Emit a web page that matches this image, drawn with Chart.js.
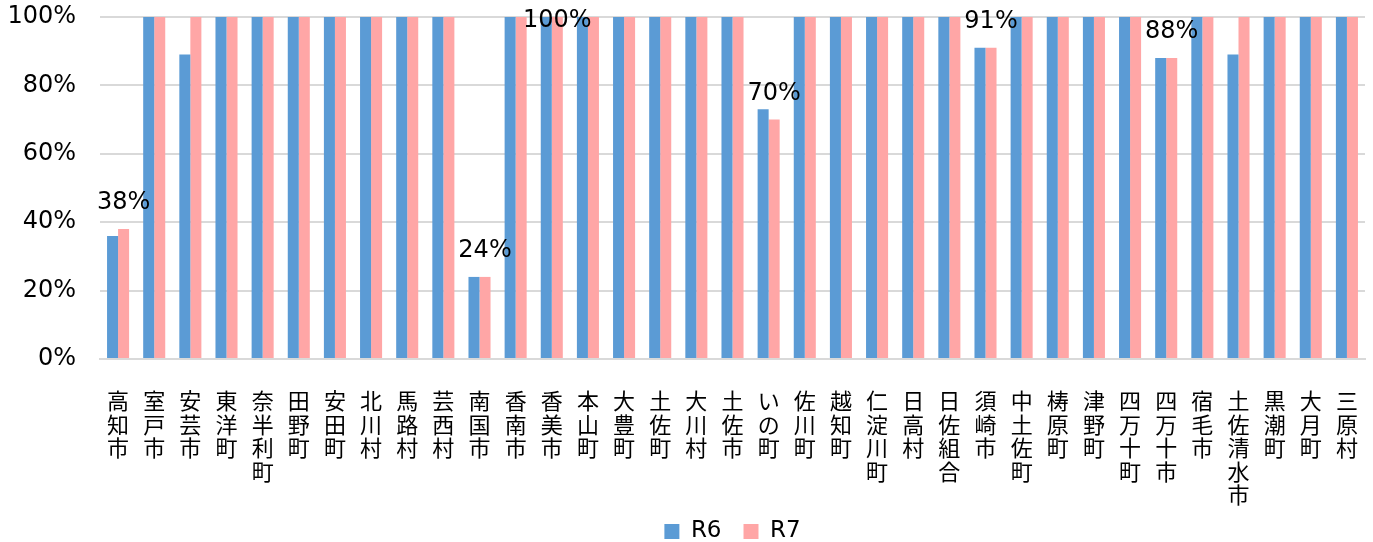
<!DOCTYPE html>
<html lang="ja">
<head>
<meta charset="utf-8">
<title>R6・R7 比較</title>
<script src="https://cdn.jsdelivr.net/npm/chart.js@4.4.1/dist/chart.umd.min.js"></script>
<style>
  html, body { margin: 0; padding: 0; background: #ffffff; }
  #wrap { width: 1373px; height: 542px; position: relative; }
</style>
</head>
<body>
<div id="wrap"><canvas id="chart" width="1373" height="542"></canvas></div>
<script>
// 市町村・組合
const categories = [
  '高知市', '室戸市', '安芸市', '東洋町', '奈半利町', '田野町', '安田町', '北川村', '馬路村', '芸西村',
  '南国市', '香南市', '香美市', '本山町', '大豊町', '土佐町', '大川村', '土佐市', 'いの町', '佐川町',
  '越知町', '仁淀川町', '日高村', '日佐組合', '須崎市', '中土佐町', '梼原町', '津野町', '四万十町', '四万十市',
  '宿毛市', '土佐清水市', '黒潮町', '大月町', '三原村'
];

// 割合（%）
const r6Values = [
  36, 100, 89, 100, 100, 100, 100, 100, 100, 100,
  24, 100, 100, 100, 100, 100, 100, 100, 73, 100,
  100, 100, 100, 100, 91, 100, 100, 100, 100, 88,
  100, 89, 100, 100, 100
];
const r7Values = [
  38, 100, 100, 100, 100, 100, 100, 100, 100, 100,
  24, 100, 100, 100, 100, 100, 100, 100, 70, 100,
  100, 100, 100, 100, 91, 100, 100, 100, 100, 88,
  100, 100, 100, 100, 100
];

// R7 の値を表示する項目
const labeledCategories = ['高知市', '南国市', '香美市', 'いの町', '須崎市', '四万十市'];

const yTicks = [0, 20, 40, 60, 80, 100];

const FONT = "'DejaVu Sans', 'Noto Sans CJK JP', sans-serif";
const CJK_FONT = "'Noto Sans CJK JP', 'DejaVu Sans', sans-serif";

// 縦書き風に1文字ずつ改行したラベル
const verticalLabels = categories.map(name => Array.from(name));

const valueLabels = {
  id: 'valueLabels',
  afterDatasetsDraw(chart) {
    const meta = chart.getDatasetMeta(1);
    const ctx = chart.ctx;
    ctx.save();
    ctx.font = '24px ' + FONT;
    ctx.fillStyle = '#000000';
    ctx.textAlign = 'center';
    ctx.textBaseline = 'middle';
    labeledCategories.forEach(name => {
      const i = categories.indexOf(name);
      const bar = meta.data[i];
      const y = Math.max(bar.y - 26, 21);
      ctx.fillText(Math.round(r7Values[i]) + '%', bar.x, y);
    });
    ctx.restore();
  }
};

new Chart(document.getElementById('chart'), {
  type: 'bar',
  data: {
    labels: verticalLabels,
    datasets: [
      { label: 'R6', data: r6Values, backgroundColor: '#5B9BD5', borderWidth: 0 },
      { label: 'R7', data: r7Values, backgroundColor: '#FFA6A6', borderWidth: 0 }
    ]
  },
  options: {
    responsive: false,
    animation: false,
    devicePixelRatio: 1,
    layout: { padding: { top: 17, left: 0, right: 8, bottom: -11 } },
    datasets: { bar: { categoryPercentage: 0.61, barPercentage: 1.0 } },
    scales: {
      x: {
        grid: { display: false, drawTicks: true, tickLength: 30, tickColor: 'rgba(0,0,0,0)' },
        border: { display: true, color: '#d9d9d9', width: 2 },
        ticks: {
          autoSkip: false,
          maxRotation: 0,
          minRotation: 0,
          padding: 0,
          color: '#000000',
          font: { family: CJK_FONT, size: 22, lineHeight: 1.07 }
        },
        afterFit(scale) {
          scale.height = 139;
          // 5文字の名前が軸の領域より下に伸びるので、ラベルを切り取らない
          scale._computeLabelArea = () => undefined;
        }
      },
      y: {
        min: 0,
        max: 100,
        afterBuildTicks(scale) { scale.ticks = yTicks.map(v => ({ value: v })); },
        grid: { color: '#d9d9d9', lineWidth: 2, drawTicks: true, tickLength: 24, tickColor: 'rgba(0,0,0,0)' },
        border: { display: false },
        ticks: {
          padding: 0,
          color: '#000000',
          font: { family: FONT, size: 24 },
          callback: v => v + '%'
        },
        afterFit(scale) { scale.width = 100; }
      }
    },
    plugins: {
      legend: {
        position: 'bottom',
        fullSize: false,
        labels: {
          boxWidth: 15,
          boxHeight: 15,
          padding: 22,
          color: '#000000',
          font: { family: FONT, size: 23 }
        }
      },
      tooltip: { enabled: false },
      title: { display: false }
    }
  },
  plugins: [valueLabels]
});
</script>
</body>
</html>
